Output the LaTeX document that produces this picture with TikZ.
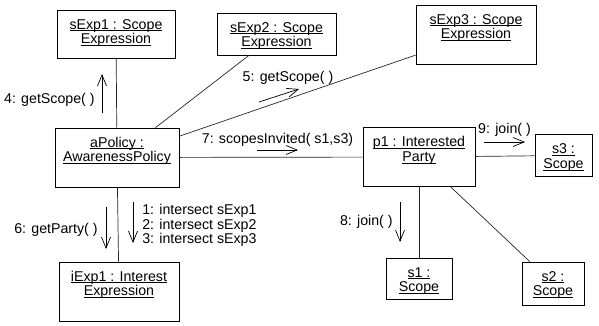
\documentclass[tikz,border=0pt]{standalone}
\usepackage{fontspec}
\setmainfont{Liberation Sans}
\usetikzlibrary{arrows.meta,positioning}
\newcommand{\diagFont}{\fontsize{14.2}{14.8}\selectfont}
\newcommand{\ulName}[1]{$\underline{\hbox{\vphantom{A}\smash{#1}}}$}
\tikzset{
    obj/.style={rectangle, draw, line width=0.8pt, inner sep=0pt},
    objText/.style={anchor=north, align=center, inner sep=0pt, yshift=-9.5pt},
    link/.style={draw, line width=0.7pt, black!85},
    msg/.style={draw, -{Straight Barb[length=11pt,width=9pt]}, line width=0.7pt, inner sep=0pt}
}
\begin{document}
\begin{tikzpicture}[x=1pt, y=-1pt, font=\diagFont]
  \useasboundingbox (0,0) rectangle (599,325);

  \node[obj, minimum width=118pt, minimum height=48pt,
        label={[objText]north:{\ulName{sExp1 : Scope}\\\ulName{Expression}}}] (sExpOne) at (116,34) {};
  \node[obj, minimum width=119pt, minimum height=42pt,
        label={[objText]north:{\ulName{sExp2 : Scope}\\\ulName{Expression}}}] (sExpTwo) at (276.5,34) {};
  \node[obj, minimum width=120pt, minimum height=59pt,
        label={[objText]north:{\ulName{sExp3 : Scope}\\\ulName{Expression}}}] (sExpThree) at (476,34.5) {};
  \node[obj, minimum width=124pt, minimum height=59pt,
        label={[objText]north:{\ulName{aPolicy :}\\\ulName{AwarenessPolicy}}}] (aPolicy) at (117,157.5) {};
  \node[obj, minimum width=112pt, minimum height=59pt,
        label={[objText]north:{\ulName{p1 : Interested}\\\ulName{Party}}}] (pOne) at (419,157) {};
  \node[obj, minimum width=57pt, minimum height=42pt,
        label={[objText]north:{\ulName{s3 :}\\\ulName{Scope}}}] (sThree) at (563.5,155.5) {};
  \node[obj, minimum width=120pt, minimum height=59pt,
        label={[objText]north:{\ulName{iExp1 : Interest}\\\ulName{Expression}}}] (iExpOne) at (119,291.5) {};
  \node[obj, minimum width=66pt, minimum height=41pt,
        label={[objText]north:{\ulName{s1 :}\\\ulName{Scope}}}] (sOne) at (419,278.5) {};
  \node[obj, minimum width=62pt, minimum height=43pt,
        label={[objText]north:{\ulName{s2 :}\\\ulName{Scope}}}] (sTwo) at (553,283.5) {};

  \draw[link] (sExpOne) -- (aPolicy);
  \draw[link] (sExpTwo) -- (aPolicy);
  \draw[link] (sExpThree) -- (aPolicy);
  \draw[link] (aPolicy) -- (pOne);
  \draw[link] (aPolicy) -- (iExpOne);
  \draw[link] (pOne) -- (sThree);
  \draw[link] (pOne) -- (sOne);
  \draw[link] (pOne) -- (sTwo);

  \coordinate (msgFourA) at (102,113);  \coordinate (msgFourB) at (102,74);
  \coordinate (msgFiveA) at (259,102);  \coordinate (msgFiveB) at (299,89);
  \coordinate (msgSixA) at (106,207);   \coordinate (msgSixB) at (106,249);
  \coordinate (msgOneA) at (133,202);   \coordinate (msgOneB) at (133,243);
  \coordinate (msgSevenA) at (257,150); \coordinate (msgSevenB) at (298,150);
  \coordinate (msgEightA) at (400,202); \coordinate (msgEightB) at (400,242);
  \coordinate (msgNineA) at (484,142);  \coordinate (msgNineB) at (525,142);

  \draw[msg] (msgFourA) -- node[left=7pt, yshift=-6pt] {4: getScope( )} (msgFourB);
  \draw[msg] (msgFiveA) -- node[above=11pt, xshift=9pt] {5: getScope( )} (msgFiveB);
  \draw[msg] (msgSixA) -- node[left=8pt, yshift=-2pt] {6: getParty( )} (msgSixB);
  \draw[msg] (msgOneA) -- node[right=9pt, yshift=-3pt, align=left]
      {1: intersect sExp1\\2: intersect sExp2\\3: intersect sExp3} (msgOneB);
  \draw[msg] (msgSevenA) -- node[above=3.7pt] {7: scopesInvited( s1,s3)} (msgSevenB);
  \draw[msg] (msgEightA) -- node[left=7pt] {8: join( )} (msgEightB);
  \draw[msg] (msgNineA) -- node[above=5.7pt] {9: join( )} (msgNineB);
\end{tikzpicture}
\end{document}
